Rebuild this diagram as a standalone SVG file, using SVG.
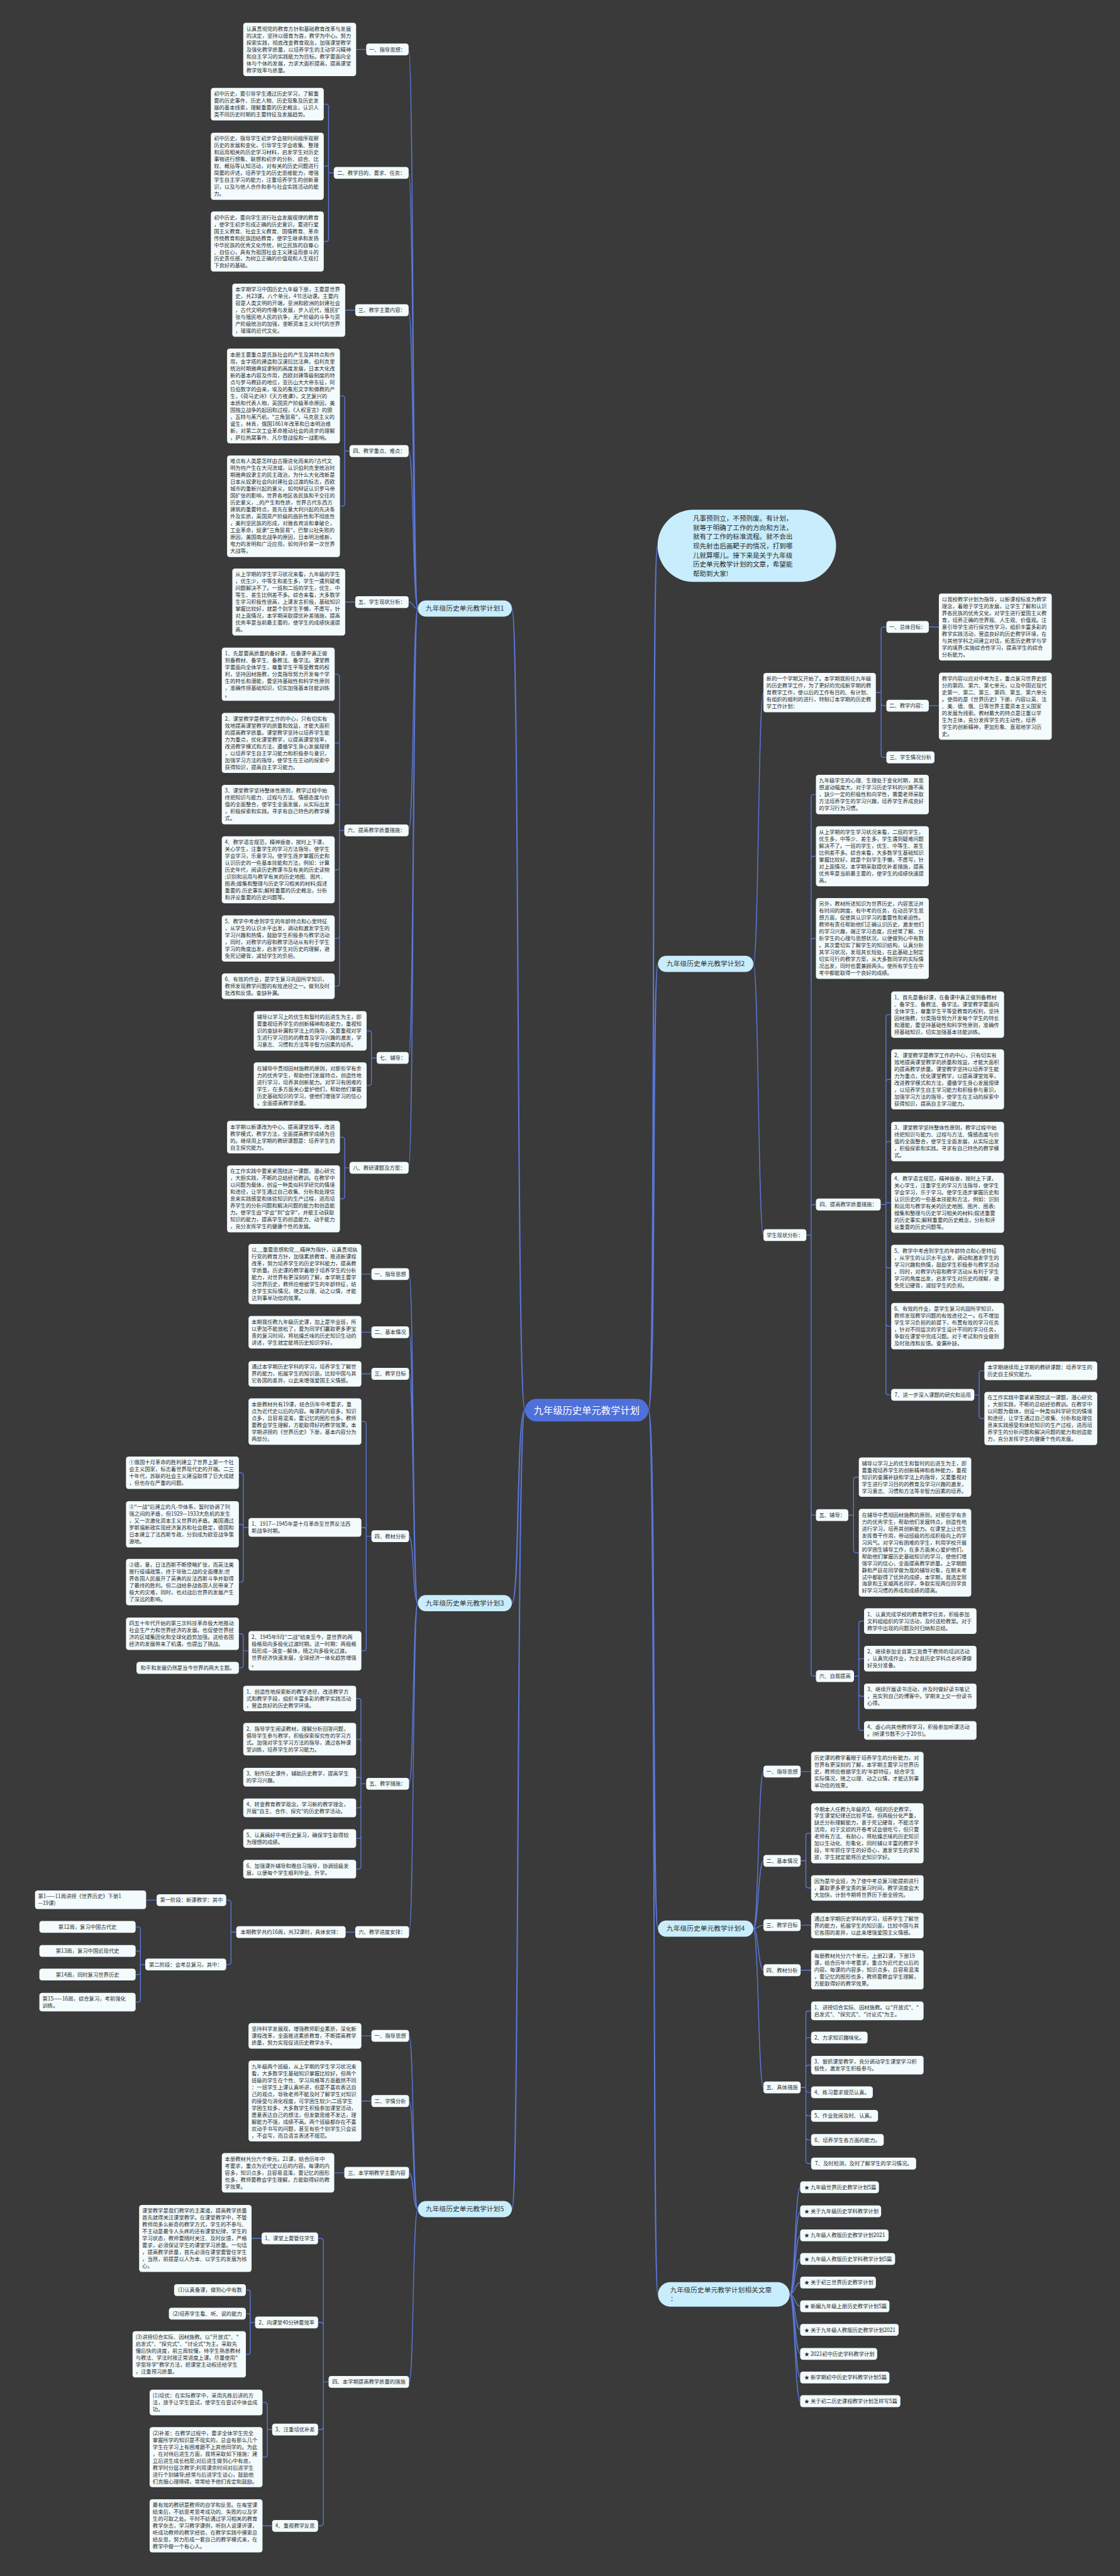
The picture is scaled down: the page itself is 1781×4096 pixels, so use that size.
<svg xmlns="http://www.w3.org/2000/svg" width="1781" height="4096" viewBox="0 0 1781 4096">
<style>
.b{fill:#f3fbfd}
.t{font-family:"Noto Sans CJK SC","Noto Sans",sans-serif;font-size:12px;fill:#2b2b2b}
.lt{font-family:"Noto Sans CJK SC","Noto Sans",sans-serif;font-size:12px;fill:#2b2b2b;text-anchor:middle}
.nd{fill:#c8edfc}
.nt{font-family:"Noto Sans CJK SC","Noto Sans",sans-serif;font-size:15.5px;fill:#333;text-anchor:middle}
.c{fill:none;stroke:#5a77d8;stroke-width:2}
.m{fill:none;stroke:#5a77d8;stroke-width:3}
</style>
<rect width="1781" height="4096" fill="#3a3a3a"/>
<g transform="scale(0.6957)">
<g id="connectors">
<path class="m" d="M1200 3223 C1180 3223 1188 1391 1170 1391 M1200 3223 C1180 3223 1188 3664 1170 3664 M1200 3223 C1180 3223 1188 5049 1170 5049 M1482 3223 C1500 3223 1488 1248 1503 1248 M1482 3223 C1500 3223 1490 2203 1504 2203 M1482 3223 C1500 3223 1490 4408 1504 4408 M1482 3223 C1500 3223 1490 5244 1504 5244"/>
<path class="c" d="M955 1391 C943 1391 946 113 934 113 M955 1391 C943 1391 946 395 934 395 M955 1391 C943 1391 946 709 934 709 M955 1391 C943 1391 946 1031 934 1031 M955 1391 C943 1391 946 1376 934 1376 M955 1391 C943 1391 946 1898 934 1898 M955 1391 C943 1391 946 2418 934 2418 M955 1391 C943 1391 946 2669 934 2669"/>
<path class="c" d="M837 113 H814 M763 395 H751 V244 Q751 238 745 238 H740 M751 395 V374 Q751 380 745 380 H740 M751 395 V546 Q751 552 745 552 H740 M812 709 H789 M799 1031 H788 V911 Q788 905 782 905 H777 M788 1031 V1151 Q788 1157 782 1157 H777 M812 1376 H789 M787 1898 H776 V1547 Q776 1541 770 1541 H765 M776 1898 V1704 Q776 1698 770 1698 H765 M776 1898 V1845 Q776 1839 770 1839 H765 M776 1898 V1982 Q776 1988 770 1988 H765 M776 1898 V2139 Q776 2145 770 2145 H765 M776 1898 V2248 Q776 2254 770 2254 H765 M861 2418 H849 V2362 Q849 2356 843 2356 H838 M849 2418 V2475 Q849 2481 843 2481 H838 M799 2669 H788 V2605 Q788 2599 782 2599 H777 M788 2669 V2734 Q788 2740 782 2740 H777"/>
<path class="c" d="M955 3664 C943 3664 946 2912 935 2912 M955 3664 C943 3664 946 3045 935 3045 M955 3664 C943 3664 946 3140 935 3140 M955 3664 C943 3664 946 3511 935 3511 M955 3664 C943 3664 946 4077 935 4077 M955 3664 C943 3664 946 4416 935 4416"/>
<path class="c" d="M849 2912 H826 M849 3045 H826 M849 3140 H826 M849 3511 H837 V3255 Q837 3249 831 3249 H826 M837 3511 V3497 Q837 3491 831 3491 H826 M837 3511 V3767 Q837 3773 831 3773 H826 M568 3491 H556 V3372 Q556 3366 550 3366 H546 M556 3491 V3490 Q556 3484 550 3484 H546 M556 3491 V3610 Q556 3616 550 3616 H546 M568 3773 H556 V3740 Q556 3734 550 3734 H546 M556 3773 V3806 Q556 3812 550 3812 H546 M837 4077 H825 V3888 Q825 3882 819 3882 H814 M825 4077 V3981 Q825 3975 819 3975 H814 M825 4077 V4068 Q825 4062 819 4062 H814 M825 4077 V4126 Q825 4132 819 4132 H814 M825 4077 V4196 Q825 4202 819 4202 H814 M825 4077 V4266 Q825 4272 819 4272 H814 M812 4416 H790 M540 4416 H528 V4349 Q528 4343 522 4343 H517 M528 4416 V4484 Q528 4490 522 4490 H517 M358 4343 H334 M332 4490 H321 V4410 Q321 4404 315 4404 H310 M321 4490 V4465 Q321 4459 315 4459 H310 M321 4490 V4507 Q321 4513 315 4513 H310 M321 4490 V4570 Q321 4576 315 4576 H310"/>
<path class="c" d="M955 5049 C943 5049 946 4653 935 4653 M955 5049 C943 5049 946 4802 935 4802 M955 5049 C943 5049 946 4966 935 4966 M955 5049 C943 5049 946 5444 935 5444"/>
<path class="c" d="M849 4653 H826 M849 4802 H826 M787 4966 H764 M751 5444 H739 V5122 Q739 5116 733 5116 H727 M739 5444 V5314 Q739 5308 733 5308 H727 M739 5444 V5547 Q739 5553 733 5553 H727 M739 5444 V5767 Q739 5773 733 5773 H727 M598 5116 H575 M583 5308 H572 V5240 Q572 5234 567 5234 H562 M572 5308 V5294 Q572 5288 567 5288 H562 M572 5308 V5375 Q572 5381 567 5381 H562 M622 5553 H611 V5497 Q611 5491 605 5491 H600 M611 5553 V5610 Q611 5616 605 5616 H600 M622 5773 H600"/>
<path class="c" d="M1722 2203 C1734 2203 1733 1583 1745 1583 M1722 2203 C1734 2203 1733 2823 1745 2823"/>
<path class="c" d="M2002 1583 H2014 V1439 Q2014 1433 2020 1433 H2026 M2014 1583 V1607 Q2014 1613 2020 1613 H2026 M2014 1583 V1725 Q2014 1731 2020 1731 H2026 M2123 1433 H2146 M2123 1613 H2146 M1843 2823 H1854 V1822 Q1854 1816 1860 1816 H1865 M1854 2823 V1963 Q1854 1957 1860 1957 H1865 M1854 2823 V2151 Q1854 2145 1860 2145 H1865 M1854 2823 V2759 Q1854 2753 1860 2753 H1865 M1854 2823 V3457 Q1854 3463 1860 3463 H1865 M1854 2823 V3825 Q1854 3831 1860 3831 H1865 M2013 2753 H2025 V2325 Q2025 2319 2031 2319 H2037 M2025 2753 V2473 Q2025 2467 2031 2467 H2037 M2025 2753 V2615 Q2025 2609 2031 2609 H2037 M2025 2753 V2749 H2037 M2025 2753 V2892 Q2025 2898 2031 2898 H2037 M2025 2753 V3025 Q2025 3031 2031 3031 H2037 M2025 2753 V3182 Q2025 3188 2031 3188 H2037 M2227 3188 H2238 V3139 Q2238 3133 2244 3133 H2250 M2238 3188 V3236 Q2238 3242 2244 3242 H2250 M1939 3463 H1951 V3382 Q1951 3376 1957 3376 H1963 M1951 3463 V3543 Q1951 3549 1957 3549 H1963 M1952 3831 H1963 V3711 Q1963 3705 1969 3705 H1975 M1963 3831 V3797 Q1963 3791 1969 3791 H1975 M1963 3831 V3871 Q1963 3877 1969 3877 H1975 M1963 3831 V3949 Q1963 3955 1969 3955 H1975"/>
<path class="c" d="M1722 4408 C1734 4408 1733 4049 1745 4049 M1722 4408 C1734 4408 1733 4253 1745 4253 M1722 4408 C1734 4408 1733 4400 1745 4400 M1722 4408 C1734 4408 1733 4503 1745 4503 M1722 4408 C1734 4408 1733 4771 1745 4771"/>
<path class="c" d="M1830 4049 H1854 M1830 4253 H1842 V4196 Q1842 4190 1848 4190 H1854 M1842 4253 V4309 Q1842 4315 1848 4315 H1854 M1830 4400 H1854 M1830 4503 H1854 M1830 4771 H1842 V4602 Q1842 4596 1848 4596 H1854 M1842 4771 V4663 Q1842 4657 1848 4657 H1854 M1842 4771 V4726 Q1842 4720 1848 4720 H1854 M1842 4771 V4776 Q1842 4782 1848 4782 H1854 M1842 4771 V4830 Q1842 4836 1848 4836 H1854 M1842 4771 V4885 Q1842 4891 1848 4891 H1854 M1842 4771 V4939 Q1842 4945 1848 4945 H1854"/>
<path class="c" d="M1805 5244 C1817 5244 1817 4999 1829 4999 M1805 5244 C1817 5244 1817 5054 1829 5054 M1805 5244 C1817 5244 1817 5109 1829 5109 M1805 5244 C1817 5244 1817 5163 1829 5163 M1805 5244 C1817 5244 1817 5217 1829 5217 M1805 5244 C1817 5244 1817 5271 1829 5271 M1805 5244 C1817 5244 1817 5325 1829 5325 M1805 5244 C1817 5244 1817 5380 1829 5380 M1805 5244 C1817 5244 1817 5434 1829 5434 M1805 5244 C1817 5244 1817 5488 1829 5488"/>
</g>

<g id="center"><rect x="1200" y="3197" width="282" height="52" rx="26" fill="#4e70da"/><text x="1341" y="3231" font-family="Noto Sans CJK SC, sans-serif" font-size="22" fill="#fff" text-anchor="middle">九年级历史单元教学计划</text></g>

<g id="intro"><rect class="nd" x="1503" y="1165" width="408" height="165" rx="82"/><text class="t" style="font-size:15.2px" x="1584" y="1190.4"><tspan x="1584">凡事预则立，不预则废。有计划，</tspan><tspan x="1584" dy="21">就等于明确了工作的方向和方法，</tspan><tspan x="1584" dy="21">就有了工作的标准流程。就不会出</tspan><tspan x="1584" dy="21">现先射击后画靶子的情况，打到哪</tspan><tspan x="1584" dy="21">儿就算哪儿。接下来是关于九年级</tspan><tspan x="1584" dy="21">历史单元教学计划的文章，希望能</tspan><tspan x="1584" dy="21">帮助到大家!</tspan></text></g>

<g id="node1"><rect class="nd" x="955" y="1372.5" width="215" height="37" rx="18.5"/><text class="nt" x="1062.5" y="1396.4">九年级历史单元教学计划1</text></g>
<g id="node2"><rect class="nd" x="1504" y="2184.5" width="218" height="37" rx="18.5"/><text class="nt" x="1613" y="2208.4">九年级历史单元教学计划2</text></g>
<g id="node3"><rect class="nd" x="955" y="3645.5" width="215" height="37" rx="18.5"/><text class="nt" x="1062.5" y="3669.4">九年级历史单元教学计划3</text></g>
<g id="node4"><rect class="nd" x="1504" y="4389.5" width="218" height="37" rx="18.5"/><text class="nt" x="1613" y="4413.4">九年级历史单元教学计划4</text></g>
<g id="node5"><rect class="nd" x="955" y="5030.5" width="215" height="37" rx="18.5"/><text class="nt" x="1062.5" y="5054.4">九年级历史单元教学计划5</text></g>
<g id="node6"><rect class="nd" x="1504" y="5216" width="301" height="56" rx="28"/><text class="nt" style="text-anchor:start" x="1532" y="5239"><tspan x="1532">九年级历史单元教学计划相关文章</tspan><tspan x="1532" dy="21">：</tspan></text></g>

<!-- branch 1 -->
<g id="l1-1"><rect class="b" x="837" y="99.5" width="97" height="27" rx="6"/><text class="lt" x="885.5" y="117.3">一、指导思想：</text></g>
<g id="a1"><rect class="b" x="556" y="52.2" width="258" height="121.6" rx="6"/><text class="t" x="563" y="69.9"><tspan x="563">认真贯彻党的教育方针和基础教育改革与发展</tspan><tspan x="563" dy="15.8">的决定，坚持以德育为首，教学为中心。努力</tspan><tspan x="563" dy="15.8">探索实践，彻底改变教育观念，加强课堂教学</tspan><tspan x="563" dy="15.8">及强化教学质量，以培养学生的主动学习精神</tspan><tspan x="563" dy="15.8">和自主学习的实践能力为目标。教学要面向全</tspan><tspan x="563" dy="15.8">体与个体的发展，力求大面积提高，提高课堂</tspan><tspan x="563" dy="15.8">教学效率与质量。</tspan></text></g>
<g id="l1-2"><rect class="b" x="763" y="381.5" width="171" height="27" rx="6"/><text class="lt" x="848.5" y="399.3">二、教学目的、要求、任务：</text></g>
<g id="a2a"><rect class="b" x="482" y="200.9" width="258" height="74.2" rx="6"/><text class="t" x="489" y="218.6"><tspan x="489">初中历史，要引导学生通过历史学习，了解重</tspan><tspan x="489" dy="15.8">要的历史事件、历史人物、历史现象及历史发</tspan><tspan x="489" dy="15.8">展的基本线索，理解重要的历史概念，认识人</tspan><tspan x="489" dy="15.8">类不同历史时期的主要特征及发展趋势。</tspan></text></g>
<g id="a2b"><rect class="b" x="482" y="303.4" width="258" height="153.2" rx="6"/><text class="t" x="489" y="321.1"><tspan x="489">初中历史，指导学生初步学会按时间顺序观察</tspan><tspan x="489" dy="15.8">历史的发展和变化，引导学生学会收集、整理</tspan><tspan x="489" dy="15.8">和运用相关的历史学习材料，启发学生对历史</tspan><tspan x="489" dy="15.8">事物进行想象、联想和初步的分析、综合、比</tspan><tspan x="489" dy="15.8">较、概括等认知活动，对有关的历史问题进行</tspan><tspan x="489" dy="15.8">简要的评述，培养学生的历史思维能力，增强</tspan><tspan x="489" dy="15.8">学生自主学习的能力，注重培养学生的创新意</tspan><tspan x="489" dy="15.8">识，以及与他人合作和参与社会实践活动的能</tspan><tspan x="489" dy="15.8">力。</tspan></text></g>
<g id="a2c"><rect class="b" x="482" y="483.3" width="258" height="137.4" rx="6"/><text class="t" x="489" y="501"><tspan x="489">初中历史，要向学生进行社会发展规律的教育</tspan><tspan x="489" dy="15.8">，使学生初步形成正确的历史意识，要进行爱</tspan><tspan x="489" dy="15.8">国主义教育、社会主义教育、国情教育、革命</tspan><tspan x="489" dy="15.8">传统教育和民族团结教育，使学生继承和发扬</tspan><tspan x="489" dy="15.8">中华民族的优秀文化传统，树立民族的自尊心</tspan><tspan x="489" dy="15.8">、自信心，具有为祖国社会主义建设而奋斗的</tspan><tspan x="489" dy="15.8">历史责任感，为树立正确的价值观和人生观打</tspan><tspan x="489" dy="15.8">下良好的基础。</tspan></text></g>
<g id="l1-3"><rect class="b" x="812" y="695.5" width="122" height="27" rx="6"/><text class="lt" x="873" y="713.3">三、教学主要内容：</text></g>
<g id="a3"><rect class="b" x="531" y="648.2" width="258" height="121.6" rx="6"/><text class="t" x="538" y="665.9"><tspan x="538">本学期学习中国历史九年级下册，主要是世界</tspan><tspan x="538" dy="15.8">史，共23课。八个单元，4节活动课。主要内</tspan><tspan x="538" dy="15.8">容是人类文明的开端，亚洲和欧洲的封建社会</tspan><tspan x="538" dy="15.8">，古代文明的传播与发展，步入近代，殖民扩</tspan><tspan x="538" dy="15.8">张与殖民地人民的抗争，无产阶级的斗争与资</tspan><tspan x="538" dy="15.8">产阶级统治的加强，垄断资本主义时代的世界</tspan><tspan x="538" dy="15.8">，璀璨的近代文化。</tspan></text></g>
<g id="l1-4"><rect class="b" x="799" y="1017.5" width="135" height="27" rx="6"/><text class="lt" x="866.5" y="1035.3">四、教学重点、难点：</text></g>
<g id="a4a"><rect class="b" x="519" y="796.8" width="258" height="216.4" rx="6"/><text class="t" x="526" y="814.5"><tspan x="526">本册主要重点是氏族社会的产生及其特点和作</tspan><tspan x="526" dy="15.8">用，金字塔的建造和汉谟拉比法典，伯利克里</tspan><tspan x="526" dy="15.8">统治时期雅典奴隶制的高度发展，日本大化改</tspan><tspan x="526" dy="15.8">新的基本内容及作用，西欧封建等级制度的特</tspan><tspan x="526" dy="15.8">点与罗马教廷的地位，亚历山大大帝东征，阿</tspan><tspan x="526" dy="15.8">拉伯数字的由来，埃及的象形文字和佛教的产</tspan><tspan x="526" dy="15.8">生，《荷马史诗》《天方夜谭》，文艺复兴的</tspan><tspan x="526" dy="15.8">本质和代表人物，英国资产阶级革命原因，美</tspan><tspan x="526" dy="15.8">国独立战争的起因和过程，《人权宣言》的颁</tspan><tspan x="526" dy="15.8">，瓦特与蒸汽机，"三角贸易"，马克思主义的</tspan><tspan x="526" dy="15.8">诞生，林肯，俄国1861年改革和日本明治维</tspan><tspan x="526" dy="15.8">新，对第二次工业革命推动社会的进步的理解</tspan><tspan x="526" dy="15.8">，萨拉热窝事件、凡尔登战役和一战影响。</tspan></text></g>
<g id="a4b"><rect class="b" x="519" y="1040.9" width="258" height="232.2" rx="6"/><text class="t" x="526" y="1058.6"><tspan x="526">难点有人类是怎样由古猿进化而来的?古代文</tspan><tspan x="526" dy="15.8">明为何产生在大河流域，认识伯利克里统治时</tspan><tspan x="526" dy="15.8">期雅典奴隶主的民主政治，为什么大化改新是</tspan><tspan x="526" dy="15.8">日本从奴隶社会向封建社会过渡的标志，西欧</tspan><tspan x="526" dy="15.8">城市的重新兴起的意义，如何辩证认识罗马帝</tspan><tspan x="526" dy="15.8">国扩张的影响，世界各地区各民族和平交往的</tspan><tspan x="526" dy="15.8">历史意义，_的产生和性质，世界古代东西方</tspan><tspan x="526" dy="15.8">建筑的重要特点，首先在意大利兴起的先决条</tspan><tspan x="526" dy="15.8">件及实质，英国资产阶级的曲折性和不彻底性</tspan><tspan x="526" dy="15.8">，美利坚民族的形成，对雅各宾派和拿破仑，</tspan><tspan x="526" dy="15.8">工业革命，奴隶"三角贸易"，巴黎公社失败的</tspan><tspan x="526" dy="15.8">原因，美国南北战争的原因，日本明治维新，</tspan><tspan x="526" dy="15.8">电力的发明和广泛应用，如何评价第一次世界</tspan><tspan x="526" dy="15.8">大战等。</tspan></text></g>
<g id="l1-5"><rect class="b" x="812" y="1362.5" width="122" height="27" rx="6"/><text class="lt" x="873" y="1380.3">五、学生现状分析：</text></g>
<g id="a5"><rect class="b" x="531" y="1299.4" width="258" height="153.2" rx="6"/><text class="t" x="538" y="1317.1"><tspan x="538">从上学期的学生学习状况来看，九年级的学生</tspan><tspan x="538" dy="15.8">，优生少，中等生和差生多，学生一遇到疑难</tspan><tspan x="538" dy="15.8">问题解决不了。一班和二班的学生，优生、中</tspan><tspan x="538" dy="15.8">等生、差生比例差不多。综合来看，大多数学</tspan><tspan x="538" dy="15.8">生学习积极性很高，上课发言积极，基础知识</tspan><tspan x="538" dy="15.8">掌握比较好，就是个别学生手懒，不愿写，针</tspan><tspan x="538" dy="15.8">对上面情况，本学期采取提优补差措施，提高</tspan><tspan x="538" dy="15.8">优秀率是当前最主要的，使学生的成绩快速提</tspan><tspan x="538" dy="15.8">高。</tspan></text></g>
<g id="l1-6"><rect class="b" x="787" y="1884.5" width="147" height="27" rx="6"/><text class="lt" x="860.5" y="1902.3">六、提高教学质量措施：</text></g>
<g id="b1"><rect class="b" x="507" y="1480.2" width="258" height="121.6" rx="6"/><text class="t" x="514" y="1497.9"><tspan x="514">1、先是要高质量的备好课，在备课中真正做</tspan><tspan x="514" dy="15.8">到备教材、备学生、备教法、备学法。课堂教</tspan><tspan x="514" dy="15.8">学要面向全体学生，尊重学生平等受教育的权</tspan><tspan x="514" dy="15.8">利，坚持因材施教，分类指导努力开发每个学</tspan><tspan x="514" dy="15.8">生的特长和潜能，要坚持基础性和科学性原则</tspan><tspan x="514" dy="15.8">，准确传授基础知识，切实加强基本技能训练</tspan><tspan x="514" dy="15.8">。</tspan></text></g>
<g id="b2"><rect class="b" x="507" y="1629.3" width="258" height="137.4" rx="6"/><text class="t" x="514" y="1647"><tspan x="514">2、课堂教学是教学工作的中心，只有切实有</tspan><tspan x="514" dy="15.8">效地提高课堂教学的质量和效益，才能大面积</tspan><tspan x="514" dy="15.8">的提高教学质量。课堂教学坚持以培养学生能</tspan><tspan x="514" dy="15.8">力为重点，优化课堂教学，以提高课堂效率，</tspan><tspan x="514" dy="15.8">改进教学模式和方法，遵循学生身心发展规律</tspan><tspan x="514" dy="15.8">，以培养学生自主学习能力和积极参与意识，</tspan><tspan x="514" dy="15.8">加强学习方法的指导，使学生在主动的探索中</tspan><tspan x="514" dy="15.8">获得知识，提高自主学习能力。</tspan></text></g>
<g id="b3"><rect class="b" x="507" y="1794" width="258" height="90" rx="6"/><text class="t" x="514" y="1811.7"><tspan x="514">3、课堂教学坚持整体性原则，教学过程中始</tspan><tspan x="514" dy="15.8">终把知识与能力、过程与方法、情感态度与价</tspan><tspan x="514" dy="15.8">值的全面整合，使学生全面发展，从实际出发</tspan><tspan x="514" dy="15.8">，积极探索和实践。寻求有自己特色的教学模</tspan><tspan x="514" dy="15.8">式。</tspan></text></g>
<g id="b4"><rect class="b" x="507" y="1911.4" width="258" height="153.2" rx="6"/><text class="t" x="514" y="1929.1"><tspan x="514">4、教学语言规范，精神振奋，按时上下课，</tspan><tspan x="514" dy="15.8">关心学生，注重学生的学习方法指导，使学生</tspan><tspan x="514" dy="15.8">学会学习，乐意学习。使学生逐步掌握历史和</tspan><tspan x="514" dy="15.8">认识历史的一些基本技能和方法，例如：计算</tspan><tspan x="514" dy="15.8">历史年代，阅读历史教课书及有关的历史读物</tspan><tspan x="514" dy="15.8">;识别和运用与教学有关的历史地图、图片、</tspan><tspan x="514" dy="15.8">图表;搜集和整理与历史学习相关的材料;叙述</tspan><tspan x="514" dy="15.8">重要的.历史事实;解释重要的历史概念，分析</tspan><tspan x="514" dy="15.8">和评论重要的历史问题等。</tspan></text></g>
<g id="b5"><rect class="b" x="507" y="2092.1" width="258" height="105.8" rx="6"/><text class="t" x="514" y="2109.8"><tspan x="514">5、教学中考虑到学生的年龄特点和心里特征</tspan><tspan x="514" dy="15.8">，从学生的认识水平出发，调动和激发学生的</tspan><tspan x="514" dy="15.8">学习兴趣和热情，鼓励学生积极参与教学活动</tspan><tspan x="514" dy="15.8">，同时，对教学内容和教学活动从有利于学生</tspan><tspan x="514" dy="15.8">学习的角度出发，启发学生对历史的理解，避</tspan><tspan x="514" dy="15.8">免死记硬背，减轻学生的负担。</tspan></text></g>
<g id="b6"><rect class="b" x="507" y="2224.8" width="258" height="58.4" rx="6"/><text class="t" x="514" y="2242.5"><tspan x="514">6、有效的作业，是学生复习巩固所学知识，</tspan><tspan x="514" dy="15.8">教师发现教学问题的有效途径之一。做到及时</tspan><tspan x="514" dy="15.8">批改和反馈。查缺补漏。</tspan></text></g>
<g id="l1-7"><rect class="b" x="861" y="2404.5" width="73" height="27" rx="6"/><text class="lt" x="897.5" y="2422.3">七、辅导：</text></g>
<g id="c1a"><rect class="b" x="580" y="2311" width="258" height="90" rx="6"/><text class="t" x="587" y="2328.7"><tspan x="587">辅导以学习上的优生和暂时的后进生为主，即</tspan><tspan x="587" dy="15.8">要重视培养学生的创新精神和各能力，重视知</tspan><tspan x="587" dy="15.8">识的查缺补漏和学法上的指导，又要重视对学</tspan><tspan x="587" dy="15.8">生进行学习目的的教育及学习兴趣的激发，学</tspan><tspan x="587" dy="15.8">习意志、习惯和方法等非智力因素的培养。</tspan></text></g>
<g id="c1b"><rect class="b" x="580" y="2428.1" width="258" height="105.8" rx="6"/><text class="t" x="587" y="2445.8"><tspan x="587">在辅导中贯彻因材施教的原则，对那些学有余</tspan><tspan x="587" dy="15.8">力的优秀学生，帮助他们发展特点，创造性地</tspan><tspan x="587" dy="15.8">进行学习，培养其创新能力。对学习有困难的</tspan><tspan x="587" dy="15.8">学生，在多方面关心爱护他们，帮助他们掌握</tspan><tspan x="587" dy="15.8">历史基础知识的学习，使他们增强学习的信心</tspan><tspan x="587" dy="15.8">，全面提高教学质量。</tspan></text></g>
<g id="l1-8"><rect class="b" x="799" y="2655.5" width="135" height="27" rx="6"/><text class="lt" x="866.5" y="2673.3">八、教研课题及方案：</text></g>
<g id="c2a"><rect class="b" x="519" y="2561.9" width="258" height="74.2" rx="6"/><text class="t" x="526" y="2579.6"><tspan x="526">本学期以新课改为中心，提高课堂效率，改进</tspan><tspan x="526" dy="15.8">教学模式，教学方法，全面提高教学成绩为目</tspan><tspan x="526" dy="15.8">的。继续用上学期的教研课题是：培养学生的</tspan><tspan x="526" dy="15.8">自主探究能力。</tspan></text></g>
<g id="c2b"><rect class="b" x="519" y="2663.4" width="258" height="153.2" rx="6"/><text class="t" x="526" y="2681.1"><tspan x="526">在工作实践中要紧紧围绕这一课题，潜心研究</tspan><tspan x="526" dy="15.8">，大胆实践，不断的总结经验教训。在教学中</tspan><tspan x="526" dy="15.8">以问题为载体，创设一种类似科学研究的情境</tspan><tspan x="526" dy="15.8">和途径，让学生通过自己收集、分析和处理信</tspan><tspan x="526" dy="15.8">息来实践感受和体验知识的生产过程，进而培</tspan><tspan x="526" dy="15.8">养学生的分析问题和解决问题的能力和创造能</tspan><tspan x="526" dy="15.8">力。使学生由"学会"到"会学"，并能主动获取</tspan><tspan x="526" dy="15.8">知识的能力，提高学生的创造能力、动手能力</tspan><tspan x="526" dy="15.8">，充分发挥学生的健康个性的发展。</tspan></text></g>

<!-- branch 3 -->
<g id="l3-1"><rect class="b" x="849" y="2898.5" width="86" height="27" rx="6"/><text class="lt" x="892" y="2916.3">一、指导思想</text></g>
<g id="d1"><rect class="b" x="568" y="2843.3" width="258" height="137.4" rx="6"/><text class="t" x="575" y="2861"><tspan x="575">以__重要思想和党__精神为指针，认真贯彻执</tspan><tspan x="575" dy="15.8">行党的教育方针，加强素质教育，推进新课程</tspan><tspan x="575" dy="15.8">改革，努力培养学生的历史学科能力，提高教</tspan><tspan x="575" dy="15.8">学质量。历史课的教学着眼于培养学生的分析</tspan><tspan x="575" dy="15.8">能力，对世界有更深刻的了解，本学期主要学</tspan><tspan x="575" dy="15.8">习世界历史，教师应根据学生的年龄特征，结</tspan><tspan x="575" dy="15.8">合学生实际情况，晓之以理、动之以情，才能</tspan><tspan x="575" dy="15.8">达到事半功倍的效果。</tspan></text></g>
<g id="l3-2"><rect class="b" x="849" y="3031.5" width="86" height="27" rx="6"/><text class="lt" x="892" y="3049.3">二、基本情况</text></g>
<g id="d2"><rect class="b" x="568" y="3007.9" width="258" height="74.2" rx="6"/><text class="t" x="575" y="3025.6"><tspan x="575">本期我任教九年级历史课，加上是毕业班，所</tspan><tspan x="575" dy="15.8">以更加不能放松了，要为同学们赢取更多更宝</tspan><tspan x="575" dy="15.8">贵的复习时间，将枯燥乏味的历史知识生动的</tspan><tspan x="575" dy="15.8">讲述，学生就定能将历史知识学好。</tspan></text></g>
<g id="l3-3"><rect class="b" x="849" y="3126.5" width="86" height="27" rx="6"/><text class="lt" x="892" y="3144.3">三、教学目标</text></g>
<g id="d3"><rect class="b" x="568" y="3110.8" width="258" height="58.4" rx="6"/><text class="t" x="575" y="3128.5"><tspan x="575">通过本学期历史学科的学习，培养学生了解世</tspan><tspan x="575" dy="15.8">界的能力，拓展学生的知识面，比较中国与其</tspan><tspan x="575" dy="15.8">它各国的差异，以此来增强爱国主义情感。</tspan></text></g>
<g id="l3-4"><rect class="b" x="849" y="3497.5" width="86" height="27" rx="6"/><text class="lt" x="892" y="3515.3">四、教材分析</text></g>
<g id="d4"><rect class="b" x="568" y="3196.1" width="258" height="105.8" rx="6"/><text class="t" x="575" y="3213.8"><tspan x="575">本册教材共有19课，结合历年中考要求，重</tspan><tspan x="575" dy="15.8">点为近代史以后的内容。每课的内容多，知识</tspan><tspan x="575" dy="15.8">点多，且容易混淆，要记忆的图形也多，教师</tspan><tspan x="575" dy="15.8">要教会学生理解，方能取得好的教学效果。本</tspan><tspan x="575" dy="15.8">学期讲授的《世界历史》下册，基本内容分为</tspan><tspan x="575" dy="15.8">两部分。</tspan></text></g>
<g id="d4-1"><rect class="b" x="568" y="3469.7" width="258" height="42.6" rx="6"/><text class="t" x="575" y="3487.4"><tspan x="575">1、1917—1945年是十月革命至世界反法西</tspan><tspan x="575" dy="15.8">斯战争时期。</tspan></text></g>
<g id="d5a"><rect class="b" x="288" y="3328.9" width="258" height="74.2" rx="6"/><text class="t" x="295" y="3346.6"><tspan x="295">①俄国十月革命的胜利建立了世界上第一个社</tspan><tspan x="295" dy="15.8">会主义国家，标志着世界现代史的开端。二三</tspan><tspan x="295" dy="15.8">十年代，苏联的社会主义建设取得了巨大成就</tspan><tspan x="295" dy="15.8">，但也存在严重的问题。</tspan></text></g>
<g id="d5b"><rect class="b" x="288" y="3431.1" width="258" height="105.8" rx="6"/><text class="t" x="295" y="3448.8"><tspan x="295">②"一战"后建立的凡-华体系，暂时协调了列</tspan><tspan x="295" dy="15.8">强之间的矛盾，但1929—1933大危机的发生</tspan><tspan x="295" dy="15.8">，又一次激化资本主义世界的矛盾。美国通过</tspan><tspan x="295" dy="15.8">罗斯福新政实现经济复苏和社会稳定，德国和</tspan><tspan x="295" dy="15.8">日本建立了法西斯专政，分别成为欧亚战争策</tspan><tspan x="295" dy="15.8">源地。</tspan></text></g>
<g id="d5c"><rect class="b" x="288" y="3563.1" width="258" height="105.8" rx="6"/><text class="t" x="295" y="3580.8"><tspan x="295">③德，意，日法西斯不断侵略扩张，而英法美</tspan><tspan x="295" dy="15.8">推行绥靖政策，终于导致二战的全面爆发;世</tspan><tspan x="295" dy="15.8">界各国人民展开了英勇的反法西斯斗争并取得</tspan><tspan x="295" dy="15.8">了最终的胜利。但二战给参战各国人民带来了</tspan><tspan x="295" dy="15.8">极大的灾难，同时，也对战后世界的发展产生</tspan><tspan x="295" dy="15.8">了深远的影响。</tspan></text></g>
<g id="d4-2"><rect class="b" x="568" y="3728" width="258" height="90" rx="6"/><text class="t" x="575" y="3745.7"><tspan x="575">2、1945年9月"二战"结束至今，是世界的两</tspan><tspan x="575" dy="15.8">极格局向多极化过渡时期。这一时期：两极格</tspan><tspan x="575" dy="15.8">局形成—演变—解体，随之向多极化过渡。</tspan><tspan x="575" dy="15.8">世界经济快速发展，全球经济一体化趋势增强</tspan><tspan x="575" dy="15.8">。</tspan></text></g>
<g id="d6a"><rect class="b" x="288" y="3696.9" width="258" height="74.2" rx="6"/><text class="t" x="295" y="3714.6"><tspan x="295">四五十年代开始的第三次科技革命极大地推动</tspan><tspan x="295" dy="15.8">社会生产力和世界经济的发展。也促使世界经</tspan><tspan x="295" dy="15.8">济的区域集团化和全球化趋势加强。这给各国</tspan><tspan x="295" dy="15.8">经济的发展带来了机遇，也提出了挑战。</tspan></text></g>
<g id="d6b"><rect class="b" x="312" y="3798.5" width="234" height="27" rx="6"/><text class="lt" x="429" y="3816.3">和平和发展仍然是当今世界的两大主题。</text></g>
<g id="l3-5"><rect class="b" x="837" y="4063.5" width="98" height="27" rx="6"/><text class="lt" x="886" y="4081.3">五、教学措施：</text></g>
<g id="e1"><rect class="b" x="556" y="3852.8" width="258" height="58.4" rx="6"/><text class="t" x="563" y="3870.5"><tspan x="563">1、创造性地探索新的教学途径，改进教学方</tspan><tspan x="563" dy="15.8">式和教学手段，组织丰富多彩的教学实践活动</tspan><tspan x="563" dy="15.8">，营造良好的历史教学环境。</tspan></text></g>
<g id="e2"><rect class="b" x="556" y="3937.9" width="258" height="74.2" rx="6"/><text class="t" x="563" y="3955.6"><tspan x="563">2、指导学生阅读教材，理解分析回答问题，</tspan><tspan x="563" dy="15.8">倡导学生参与教学，积极探索探究性的学习方</tspan><tspan x="563" dy="15.8">式。加强对学生学习方法的指导，通过各种课</tspan><tspan x="563" dy="15.8">堂训练，培养学生的学习能力。</tspan></text></g>
<g id="e3"><rect class="b" x="556" y="4040.7" width="258" height="42.6" rx="6"/><text class="t" x="563" y="4058.4"><tspan x="563">3、制作历史课件，辅助历史教学，提高学生</tspan><tspan x="563" dy="15.8">的学习兴趣。</tspan></text></g>
<g id="e4"><rect class="b" x="556" y="4110.7" width="258" height="42.6" rx="6"/><text class="t" x="563" y="4128.4"><tspan x="563">4、转变教育教学观念，学习新的教学理念，</tspan><tspan x="563" dy="15.8">开展"自主、合作、探究"的历史教学活动。</tspan></text></g>
<g id="e5"><rect class="b" x="556" y="4180.7" width="258" height="42.6" rx="6"/><text class="t" x="563" y="4198.4"><tspan x="563">5、认真搞好中考历史复习，确保学生取得较</tspan><tspan x="563" dy="15.8">为理想的成绩。</tspan></text></g>
<g id="e6"><rect class="b" x="556" y="4250.7" width="258" height="42.6" rx="6"/><text class="t" x="563" y="4268.4"><tspan x="563">6、加强课外辅导和晚自习指导，协调班级发</tspan><tspan x="563" dy="15.8">展，以便每个学生顺利毕业、升学。</tspan></text></g>
<g id="l3-6"><rect class="b" x="812" y="4402.5" width="123" height="27" rx="6"/><text class="lt" x="873.5" y="4420.3">六、教学进度安排：</text></g>
<g id="f1"><rect class="b" x="540" y="4402.5" width="250" height="27" rx="6"/><text class="lt" x="665" y="4420.3">本期教学共约16周，共32课时，具体安排：</text></g>
<g id="f2"><rect class="b" x="358" y="4329.5" width="159" height="27" rx="6"/><text class="lt" x="437.5" y="4347.3">第一阶段：新课教学：其中</text></g>
<g id="f3"><rect class="b" x="332" y="4476.5" width="185" height="27" rx="6"/><text class="lt" x="424.5" y="4494.3">第二阶段：会考总复习，其中：</text></g>
<g id="f2a"><rect class="b" x="80" y="4320.7" width="254" height="42.6" rx="6"/><text class="t" x="87" y="4338.4"><tspan x="87">第1——11周讲授《世界历史》下册1</tspan><tspan x="87" dy="15.8">—19课)</tspan></text></g>
<g id="f3a"><rect class="b" x="90" y="4390.5" width="220" height="27" rx="6"/><text class="lt" x="200" y="4408.3">第12周，复习中国古代史</text></g>
<g id="f3b"><rect class="b" x="90" y="4445.5" width="220" height="27" rx="6"/><text class="lt" x="200" y="4463.3">第13周，复习中国近现代史</text></g>
<g id="f3c"><rect class="b" x="90" y="4499.5" width="220" height="27" rx="6"/><text class="lt" x="200" y="4517.3">第14周，同时复习世界历史</text></g>
<g id="f3d"><rect class="b" x="90" y="4554.7" width="220" height="42.6" rx="6"/><text class="t" x="97" y="4572.4"><tspan x="97">第15——16周，综合复习，考前强化</tspan><tspan x="97" dy="15.8">训练。</tspan></text></g>

<!-- branch 5 -->
<g id="l5-1"><rect class="b" x="849" y="4639.5" width="86" height="27" rx="6"/><text class="lt" x="892" y="4657.3">一、指导思想</text></g>
<g id="g1"><rect class="b" x="568" y="4623.8" width="258" height="58.4" rx="6"/><text class="t" x="575" y="4641.5"><tspan x="575">坚持科学发展观，增强教师职业素质，深化新</tspan><tspan x="575" dy="15.8">课程改革，全面推进素质教育，不断提高教学</tspan><tspan x="575" dy="15.8">质量，努力实现促进历史教学水平。</tspan></text></g>
<g id="l5-2"><rect class="b" x="849" y="4788.5" width="86" height="27" rx="6"/><text class="lt" x="892" y="4806.3">二、学情分析</text></g>
<g id="g2"><rect class="b" x="568" y="4709.6" width="258" height="184.8" rx="6"/><text class="t" x="575" y="4727.3"><tspan x="575">九年级两个班级，从上学期的学生学习状况来</tspan><tspan x="575" dy="15.8">看，大多数学生基础知识掌握比较好，但两个</tspan><tspan x="575" dy="15.8">班级的学生在个性、学习风格等方面截然不同</tspan><tspan x="575" dy="15.8">：一班学生上课认真听讲，但是不喜欢表达自</tspan><tspan x="575" dy="15.8">己的观点，导致老师不能及时了解学生对知识</tspan><tspan x="575" dy="15.8">的接受与消化程度，可学困生较少;二班学生</tspan><tspan x="575" dy="15.8">学困生较多，大多数学生积极参加课堂活动，</tspan><tspan x="575" dy="15.8">愿意表达自己的想法，但发散思维不发达，理</tspan><tspan x="575" dy="15.8">解能力不强，成绩不高。两个班级都存在不喜</tspan><tspan x="575" dy="15.8">欢动手书写的问题，甚至有些个别学生只会说</tspan><tspan x="575" dy="15.8">，不会写，而且语言表述不规范。</tspan></text></g>
<g id="l5-3"><rect class="b" x="787" y="4952.5" width="148" height="27" rx="6"/><text class="lt" x="861" y="4970.3">三、本学期教学主要内容</text></g>
<g id="g3"><rect class="b" x="507" y="4921" width="257" height="90" rx="6"/><text class="t" x="514" y="4938.7"><tspan x="514">本册教材共分六个单元，21课，结合历年中</tspan><tspan x="514" dy="15.8">考要求，重点为近代史以后的内容。每课的内</tspan><tspan x="514" dy="15.8">容多，知识点多，且容易混淆，要记忆的图形</tspan><tspan x="514" dy="15.8">也多，教师要教会学生理解，方能取得好的教</tspan><tspan x="514" dy="15.8">学效果。</tspan></text></g>
<g id="l5-4"><rect class="b" x="751" y="5430.5" width="184" height="27" rx="6"/><text class="lt" x="843" y="5448.3">四、本学期提高教学质量的措施</text></g>
<g id="l5-4-1"><rect class="b" x="598" y="5102.5" width="129" height="27" rx="6"/><text class="lt" x="662.5" y="5120.3">1、课堂上要管住学生</text></g>
<g id="h1a"><rect class="b" x="318" y="5039.4" width="257" height="153.2" rx="6"/><text class="t" x="325" y="5057.1"><tspan x="325">课堂教学是我们教学的主渠道，提高教学质量</tspan><tspan x="325" dy="15.8">首先就得关注课堂教学。在课堂教学中，不管</tspan><tspan x="325" dy="15.8">教师用多么新奇的教学方式，学生的不参与、</tspan><tspan x="325" dy="15.8">不主动是最令人头疼的还有课堂纪律，学生的</tspan><tspan x="325" dy="15.8">学习状态，教师要随时关注、及时反馈，严格</tspan><tspan x="325" dy="15.8">要求，必须保证学生的课堂学习质量。一句话</tspan><tspan x="325" dy="15.8">，提高教学质量，首先必须在课堂要管住学生</tspan><tspan x="325" dy="15.8">，当然，前提是以人为本、以学生的发展为核</tspan><tspan x="325" dy="15.8">心。</tspan></text></g>
<g id="l5-4-2"><rect class="b" x="583" y="5294.5" width="144" height="27" rx="6"/><text class="lt" x="655" y="5312.3">2、向课堂40分钟要效率</text></g>
<g id="h2a"><rect class="b" x="398" y="5220.5" width="164" height="27" rx="6"/><text class="lt" x="480" y="5238.3">(1)认真备课，做到心中有数</text></g>
<g id="h2b"><rect class="b" x="386" y="5274.5" width="176" height="27" rx="6"/><text class="lt" x="474" y="5292.3">(2)培养学生看、听、说的能力</text></g>
<g id="h2c"><rect class="b" x="303" y="5328.1" width="259" height="105.8" rx="6"/><text class="t" x="310" y="5345.8"><tspan x="310">(3)讲授切合实际、因材施教。以"开放式"、"</tspan><tspan x="310" dy="15.8">启发式"、"探究式"、"讨论式"为主。采取先</tspan><tspan x="310" dy="15.8">慢后快的进度，前三周较慢，待学生熟悉教材</tspan><tspan x="310" dy="15.8">与教法、学法时按正常进度上课。尽量使用"</tspan><tspan x="310" dy="15.8">学案导学"教学方法，把课堂主动权还给学生</tspan><tspan x="310" dy="15.8">，注重预习质量。</tspan></text></g>
<g id="l5-4-3"><rect class="b" x="622" y="5539.5" width="105" height="27" rx="6"/><text class="lt" x="674.5" y="5557.3">3、注重培优补差</text></g>
<g id="h3a"><rect class="b" x="342" y="5461.8" width="258" height="58.4" rx="6"/><text class="t" x="349" y="5479.5"><tspan x="349">(1)培优：在实际教学中，采用先练后讲的方</tspan><tspan x="349" dy="15.8">法，放手让学生尝试，使学生在尝试中体会成</tspan><tspan x="349" dy="15.8">功。</tspan></text></g>
<g id="h3b"><rect class="b" x="342" y="5547.3" width="258" height="137.4" rx="6"/><text class="t" x="349" y="5565"><tspan x="349">(2)补差：在教学过程中，要求全体学生完全</tspan><tspan x="349" dy="15.8">掌握所学的知识是不现实的，总会有那么几个</tspan><tspan x="349" dy="15.8">学生在学习上有困难跟不上其他同学的。为此</tspan><tspan x="349" dy="15.8">，在对待后进生方面，我将采取如下措施：建</tspan><tspan x="349" dy="15.8">立后进生成长档案;对后进生做到心中有底，</tspan><tspan x="349" dy="15.8">教学时分层次教学;利用课余时间对后进学生</tspan><tspan x="349" dy="15.8">进行个别辅导;经常与后进学生谈心，鼓励他</tspan><tspan x="349" dy="15.8">们克服心理障碍，常常给予他们肯定和鼓励。</tspan></text></g>
<g id="l5-4-4"><rect class="b" x="622" y="5759.5" width="105" height="27" rx="6"/><text class="lt" x="674.5" y="5777.3">4、重视教学反思</text></g>
<g id="h4a"><rect class="b" x="342" y="5712.2" width="258" height="121.6" rx="6"/><text class="t" x="349" y="5729.9"><tspan x="349">最有效的教研是教师的自学和反思。在每堂课</tspan><tspan x="349" dy="15.8">结束后，不妨思考思考成功的、失败的以及学</tspan><tspan x="349" dy="15.8">生的可取之处。平时不妨通过学习相关的教育</tspan><tspan x="349" dy="15.8">教学杂志，学习教学课例，听别人说课评课，</tspan><tspan x="349" dy="15.8">听成功教师的教学经验，在教学实践中摸索总</tspan><tspan x="349" dy="15.8">结反思，努力形成一套自己的教学模式来，在</tspan><tspan x="349" dy="15.8">教学中做一个有心人。</tspan></text></g>

<!-- branch 2 -->
<g id="r1"><rect class="b" x="1745" y="1538" width="257" height="90" rx="6"/><text class="t" x="1752" y="1555.7"><tspan x="1752">新的一个学期又开始了。本学期我担任九年级</tspan><tspan x="1752" dy="15.8">的历史教学工作，为了更好的完成新学期的教</tspan><tspan x="1752" dy="15.8">育教学工作，使以后的工作有目的、有计划、</tspan><tspan x="1752" dy="15.8">有组织的顺利的进行，特制订本学期的历史教</tspan><tspan x="1752" dy="15.8">学工作计划：</tspan></text></g>
<g id="l2-1"><rect class="b" x="2026" y="1419.5" width="97" height="27" rx="6"/><text class="lt" x="2074.5" y="1437.3">一、总体目标：</text></g>
<g id="l2-2"><rect class="b" x="2026" y="1599.5" width="97" height="27" rx="6"/><text class="lt" x="2074.5" y="1617.3">二、教学内容：</text></g>
<g id="l2-3"><rect class="b" x="2026" y="1717.5" width="110" height="27" rx="6"/><text class="lt" x="2081" y="1735.3">三、学生情况分析</text></g>
<g id="r1a"><rect class="b" x="2146" y="1356.4" width="258" height="153.2" rx="6"/><text class="t" x="2153" y="1374.1"><tspan x="2153">以我校教学计划为指导，以新课程标准为教学</tspan><tspan x="2153" dy="15.8">理念，着眼于学生的发展，让学生了解和认识</tspan><tspan x="2153" dy="15.8">界各民族的优秀文化，对学生进行爱国主义教</tspan><tspan x="2153" dy="15.8">育，培养正确的世界观、人生观、价值观。注</tspan><tspan x="2153" dy="15.8">意引导学生进行探究性学习，组织丰富多彩的</tspan><tspan x="2153" dy="15.8">教学实践活动，营造良好的历史教学环境，在</tspan><tspan x="2153" dy="15.8">与其他学科之间建立对话，拓宽历史教学与学</tspan><tspan x="2153" dy="15.8">学的境界;实施综合性学习，提高学生的综合</tspan><tspan x="2153" dy="15.8">分析能力。</tspan></text></g>
<g id="r1b"><rect class="b" x="2146" y="1537.4" width="258" height="153.2" rx="6"/><text class="t" x="2153" y="1555.1"><tspan x="2153">教学内容以应对中考为主，重点复习世界史部</tspan><tspan x="2153" dy="15.8">分的第四、第六、第七单元，以及中国近现代</tspan><tspan x="2153" dy="15.8">史第一、第二、第三、第四、第五、第六单元</tspan><tspan x="2153" dy="15.8">。使用的是《世界历史》下册，内容以英、法</tspan><tspan x="2153" dy="15.8">、美、德、俄、日等世界主要资本主义国家</tspan><tspan x="2153" dy="15.8">的发展为线索。教材最大的特点是注重以学</tspan><tspan x="2153" dy="15.8">生为主体，充分发挥学生的主动性，培养</tspan><tspan x="2153" dy="15.8">学生的创新精神，更加形象、直观地学习历</tspan><tspan x="2153" dy="15.8">史。</tspan></text></g>
<g id="l2-4"><rect class="b" x="1745" y="2809.5" width="98" height="27" rx="6"/><text class="lt" x="1794" y="2827.3">学生现状分析：</text></g>
<g id="r2a"><rect class="b" x="1865" y="1771" width="258" height="90" rx="6"/><text class="t" x="1872" y="1788.7"><tspan x="1872">九年级学生的心理、生理处于变化时期，其思</tspan><tspan x="1872" dy="15.8">想波动幅度大，对于学习历史学科的兴趣不高</tspan><tspan x="1872" dy="15.8">，缺少一定的积极性和向学性，需要老师采取</tspan><tspan x="1872" dy="15.8">方法培养学生的学习兴趣，培养学生养成良好</tspan><tspan x="1872" dy="15.8">的学习行为习惯。</tspan></text></g>
<g id="r2b"><rect class="b" x="1865" y="1888.3" width="258" height="137.4" rx="6"/><text class="t" x="1872" y="1906"><tspan x="1872">从上学期的学生学习状况来看，二班的学生，</tspan><tspan x="1872" dy="15.8">优生多，中等少、差生多，学生遇到疑难问题</tspan><tspan x="1872" dy="15.8">解决不了。一班的学生，优生、中等生、差生</tspan><tspan x="1872" dy="15.8">比例差不多。综合来看，大多数学生基础知识</tspan><tspan x="1872" dy="15.8">掌握比较好，就是个别学生手懒，不愿写，针</tspan><tspan x="1872" dy="15.8">对上面情况，本学期采取提优补差措施，提高</tspan><tspan x="1872" dy="15.8">优秀率是当前最主要的，使学生的成绩快速提</tspan><tspan x="1872" dy="15.8">高。</tspan></text></g>
<g id="r2c"><rect class="b" x="1865" y="2052.6" width="258" height="184.8" rx="6"/><text class="t" x="1872" y="2070.3"><tspan x="1872">另外，教材所述知识为世界历史，内容宽泛并</tspan><tspan x="1872" dy="15.8">有时间的跨度，有中考的任务，在动员学生思</tspan><tspan x="1872" dy="15.8">想方面，促使其认识学习的重要性和紧迫性。</tspan><tspan x="1872" dy="15.8">教师有责任帮助他们正确认识历史，激发他们</tspan><tspan x="1872" dy="15.8">的学习兴趣，端正学习态度，应经常了解、分</tspan><tspan x="1872" dy="15.8">析学生的心理与思想状况，以便做到心中有数</tspan><tspan x="1872" dy="15.8">。其次要切实了解学生的知识结构，认真分析</tspan><tspan x="1872" dy="15.8">其学习状况，发现其长短处，在此基础上制定</tspan><tspan x="1872" dy="15.8">切实可行的教学方案，从大多数同学的实际情</tspan><tspan x="1872" dy="15.8">况出发，同时也要兼顾两头。使所有学生在中</tspan><tspan x="1872" dy="15.8">考中都能取得一个良好的成绩。</tspan></text></g>
<g id="l2-5"><rect class="b" x="1865" y="2739.5" width="148" height="27" rx="6"/><text class="lt" x="1939" y="2757.3">四、提高教学质量措施：</text></g>
<g id="r4-1"><rect class="b" x="2037" y="2266.1" width="258" height="105.8" rx="6"/><text class="t" x="2044" y="2283.8"><tspan x="2044">1、首先是备好课，在备课中真正做到备教材</tspan><tspan x="2044" dy="15.8">、备学生、备教法、备学法。课堂教学要面向</tspan><tspan x="2044" dy="15.8">全体学生，尊重学生平等受教育的权利，坚持</tspan><tspan x="2044" dy="15.8">因材施教，分类指导努力开发每个学生的特长</tspan><tspan x="2044" dy="15.8">和潜能，要坚持基础性和科学性原则，准确传</tspan><tspan x="2044" dy="15.8">授基础知识，切实加强基本技能训练。</tspan></text></g>
<g id="r4-2"><rect class="b" x="2037" y="2398.3" width="258" height="137.4" rx="6"/><text class="t" x="2044" y="2416"><tspan x="2044">2、课堂教学是教学工作的中心，只有切实有</tspan><tspan x="2044" dy="15.8">效地提高课堂教学的质量和效益，才能大面积</tspan><tspan x="2044" dy="15.8">的提高教学质量。课堂教学坚持以培养学生能</tspan><tspan x="2044" dy="15.8">力为重点，优化课堂教学，以提高课堂效率，</tspan><tspan x="2044" dy="15.8">改进教学模式和方法，遵循学生身心发展规律</tspan><tspan x="2044" dy="15.8">，以培养学生自主学习能力和积极参与意识，</tspan><tspan x="2044" dy="15.8">加强学习方法的指导，使学生在主动的探索中</tspan><tspan x="2044" dy="15.8">获得知识，提高自主学习能力。</tspan></text></g>
<g id="r4-3"><rect class="b" x="2037" y="2564" width="258" height="90" rx="6"/><text class="t" x="2044" y="2581.7"><tspan x="2044">3、课堂教学坚持整体性原则，教学过程中始</tspan><tspan x="2044" dy="15.8">终把知识与能力、过程与方法、情感态度与价</tspan><tspan x="2044" dy="15.8">值的全面整合，使学生全面发展，从实际出发</tspan><tspan x="2044" dy="15.8">，积极探索和实践。寻求有自己特色的教学模</tspan><tspan x="2044" dy="15.8">式。</tspan></text></g>
<g id="r4-4"><rect class="b" x="2037" y="2680.3" width="258" height="137.4" rx="6"/><text class="t" x="2044" y="2698"><tspan x="2044">4、教学语言规范，精神振奋，按时上下课，</tspan><tspan x="2044" dy="15.8">关心学生，注重学生的学习方法指导，使学生</tspan><tspan x="2044" dy="15.8">学会学习，乐于学习。使学生逐步掌握历史和</tspan><tspan x="2044" dy="15.8">认识历史的一些基本技能和方法，例如：识别</tspan><tspan x="2044" dy="15.8">和运用与教学有关的历史地图、图片、图表;</tspan><tspan x="2044" dy="15.8">搜集和整理与历史学习相关的材料;叙述重要</tspan><tspan x="2044" dy="15.8">的历史事实;解释重要的历史概念，分析和评</tspan><tspan x="2044" dy="15.8">论重要的历史问题等。</tspan></text></g>
<g id="r4-5"><rect class="b" x="2037" y="2845.1" width="258" height="105.8" rx="6"/><text class="t" x="2044" y="2862.8"><tspan x="2044">5、教学中考虑到学生的年龄特点和心里特征</tspan><tspan x="2044" dy="15.8">，从学生的认识水平出发，调动和激发学生的</tspan><tspan x="2044" dy="15.8">学习兴趣和热情，鼓励学生积极参与教学活动</tspan><tspan x="2044" dy="15.8">，同时，对教学内容和教学活动从有利于学生</tspan><tspan x="2044" dy="15.8">学习的角度出发，启发学生对历史的理解，避</tspan><tspan x="2044" dy="15.8">免死记硬背，减轻学生的负担。</tspan></text></g>
<g id="r4-6"><rect class="b" x="2037" y="2978.1" width="258" height="105.8" rx="6"/><text class="t" x="2044" y="2995.8"><tspan x="2044">6、有效的作业，是学生复习巩固所学知识，</tspan><tspan x="2044" dy="15.8">教师发现教学问题的有效途径之一。在不增加</tspan><tspan x="2044" dy="15.8">学生学习负担的前提下，布置有效的学习任务</tspan><tspan x="2044" dy="15.8">，针对不同层次的学生设计不同的学习任务，</tspan><tspan x="2044" dy="15.8">争取在课堂中完成习题。对于考试和作业做到</tspan><tspan x="2044" dy="15.8">及时批改和反馈。查漏补缺。</tspan></text></g>
<g id="l2-5-7"><rect class="b" x="2037" y="3174.5" width="190" height="27" rx="6"/><text class="lt" x="2132" y="3192.3">7、进一步深入课题的研究和运用</text></g>
<g id="r4-7a"><rect class="b" x="2250" y="3111.7" width="258" height="42.6" rx="6"/><text class="t" x="2257" y="3129.4"><tspan x="2257">本学期继续用上学期的教研课题：培养学生的</tspan><tspan x="2257" dy="15.8">历史自主探究能力。</tspan></text></g>
<g id="r4-7b"><rect class="b" x="2250" y="3181.2" width="258" height="121.6" rx="6"/><text class="t" x="2257" y="3198.9"><tspan x="2257">在工作实践中要紧紧围绕这一课题，潜心研究</tspan><tspan x="2257" dy="15.8">，大胆实践，不断的总结经验教训。在教学中</tspan><tspan x="2257" dy="15.8">以问题为载体，创设一种类似科学研究的情境</tspan><tspan x="2257" dy="15.8">和途径，让学生通过自己收集、分析和处理信</tspan><tspan x="2257" dy="15.8">息来实践感受和体验知识的生产过程，进而培</tspan><tspan x="2257" dy="15.8">养学生的分析问题和解决问题的能力和创造能</tspan><tspan x="2257" dy="15.8">力，充分发挥学生的健康个性的发展。</tspan></text></g>
<g id="l2-6"><rect class="b" x="1865" y="3449.5" width="74" height="27" rx="6"/><text class="lt" x="1902" y="3467.3">五、辅导：</text></g>
<g id="r5a"><rect class="b" x="1963" y="3331" width="257" height="90" rx="6"/><text class="t" x="1970" y="3348.7"><tspan x="1970">辅导以学习上的优生和暂时的后进生为主，即</tspan><tspan x="1970" dy="15.8">要重视培养学生的创新精神和各种能力，重视</tspan><tspan x="1970" dy="15.8">知识的查漏补缺和学法上的指导，又要重视对</tspan><tspan x="1970" dy="15.8">学生进行学习目的的教育及学习兴趣的激发，</tspan><tspan x="1970" dy="15.8">学习意志、习惯和方法等非智力因素的培养。</tspan></text></g>
<g id="r5b"><rect class="b" x="1963" y="3448.7" width="257" height="200.6" rx="6"/><text class="t" x="1970" y="3466.4"><tspan x="1970">在辅导中贯彻因材施教的原则，对那些学有余</tspan><tspan x="1970" dy="15.8">力的优秀学生，帮助他们发展特点，创造性地</tspan><tspan x="1970" dy="15.8">进行学习，培养其创新能力。在课堂上让优生</tspan><tspan x="1970" dy="15.8">发挥骨干作用，带动班级的形成积极向上的学</tspan><tspan x="1970" dy="15.8">习风气。对学习有困难的学生，利用学校开展</tspan><tspan x="1970" dy="15.8">的学困生辅导工作，在多方面关心爱护他们，</tspan><tspan x="1970" dy="15.8">帮助他们掌握历史基础知识的学习，使他们增</tspan><tspan x="1970" dy="15.8">强学习的信心，全面提高教学质量。上学期颜</tspan><tspan x="1970" dy="15.8">静和严廷花同学做为我的辅导对象，在期末考</tspan><tspan x="1970" dy="15.8">试中都取得了优异的成绩，本学期，我选定邢</tspan><tspan x="1970" dy="15.8">海泉和王家威两名同学，争取实现两位同学良</tspan><tspan x="1970" dy="15.8">好学习习惯的养成和成绩的提高。</tspan></text></g>
<g id="l2-7"><rect class="b" x="1865" y="3817.5" width="87" height="27" rx="6"/><text class="lt" x="1908.5" y="3835.3">六、自我提高</text></g>
<g id="r6-1"><rect class="b" x="1975" y="3675.8" width="257" height="58.4" rx="6"/><text class="t" x="1982" y="3693.5"><tspan x="1982">1、认真完成学校的教育教学任务，积极参加</tspan><tspan x="1982" dy="15.8">文科组组织的学习活动，及时送检教案。对于</tspan><tspan x="1982" dy="15.8">教学中出现的问题及时归纳和总结。</tspan></text></g>
<g id="r6-2"><rect class="b" x="1975" y="3761.8" width="257" height="58.4" rx="6"/><text class="t" x="1982" y="3779.5"><tspan x="1982">2、继续参加全县第三批骨干教师的培训活动</tspan><tspan x="1982" dy="15.8">，认真完成作业，为全县历史学科点名听课做</tspan><tspan x="1982" dy="15.8">好充分准备。</tspan></text></g>
<g id="r6-3"><rect class="b" x="1975" y="3847.8" width="257" height="58.4" rx="6"/><text class="t" x="1982" y="3865.5"><tspan x="1982">3、继续开展读书活动，并及时做好读书笔记</tspan><tspan x="1982" dy="15.8">，充实到自己的博客中。学期末上交一份读书</tspan><tspan x="1982" dy="15.8">心得。</tspan></text></g>
<g id="r6-4"><rect class="b" x="1975" y="3933.7" width="257" height="42.6" rx="6"/><text class="t" x="1982" y="3951.4"><tspan x="1982">4、虚心向其他教师学习，积极参加听课活动</tspan><tspan x="1982" dy="15.8">。(听课节数不少于20节)。</tspan></text></g>

<!-- branch 4 -->
<g id="l4-1"><rect class="b" x="1745" y="4035.5" width="85" height="27" rx="6"/><text class="lt" x="1787.5" y="4053.3">一、指导思想</text></g>
<g id="s1"><rect class="b" x="1854" y="4004" width="257" height="90" rx="6"/><text class="t" x="1861" y="4021.7"><tspan x="1861">历史课的教学着眼于培养学生的分析能力，对</tspan><tspan x="1861" dy="15.8">世界有更深刻的了解，本学期主要学习世界历</tspan><tspan x="1861" dy="15.8">史，教师应根据学生的'年龄特征，结合学生</tspan><tspan x="1861" dy="15.8">实际情况，晓之以理、动之以情，才能达到事</tspan><tspan x="1861" dy="15.8">半功倍的效果。</tspan></text></g>
<g id="l4-2"><rect class="b" x="1745" y="4239.5" width="85" height="27" rx="6"/><text class="lt" x="1787.5" y="4257.3">二、基本情况</text></g>
<g id="s2a"><rect class="b" x="1854" y="4121.3" width="257" height="137.4" rx="6"/><text class="t" x="1861" y="4139"><tspan x="1861">今期本人任教九年级的3、4班的历史教学，</tspan><tspan x="1861" dy="15.8">学生课堂纪律还比较不错，但两极分化严重，</tspan><tspan x="1861" dy="15.8">缺乏分析理解能力，衷于死记硬背，不能活学</tspan><tspan x="1861" dy="15.8">活用，对于文综的开卷考试会很吃亏，但只要</tspan><tspan x="1861" dy="15.8">老师有方法、有耐心，将枯燥乏味的历史知识</tspan><tspan x="1861" dy="15.8">加以生动化、形象化，同时辅以丰富的教学手</tspan><tspan x="1861" dy="15.8">段，牢牢抓住学生的好奇心，激发学生的求知</tspan><tspan x="1861" dy="15.8">欲，学生就定能将历史知识学好。</tspan></text></g>
<g id="s2b"><rect class="b" x="1854" y="4285.8" width="257" height="58.4" rx="6"/><text class="t" x="1861" y="4303.5"><tspan x="1861">因为是毕业班，为了使中考总复习能提前进行</tspan><tspan x="1861" dy="15.8">，赢取更多更宝贵的复习时间，教学进度会大</tspan><tspan x="1861" dy="15.8">大加快，计划今期将世界历下册全授完。</tspan></text></g>
<g id="l4-3"><rect class="b" x="1745" y="4386.5" width="85" height="27" rx="6"/><text class="lt" x="1787.5" y="4404.3">三、教学目标</text></g>
<g id="s3"><rect class="b" x="1854" y="4371.8" width="257" height="58.4" rx="6"/><text class="t" x="1861" y="4389.5"><tspan x="1861">通过本学期历史学科的学习，培养学生了解世</tspan><tspan x="1861" dy="15.8">界的能力，拓展学生的知识面，比较中国与其</tspan><tspan x="1861" dy="15.8">它各国的差异，以此来增强爱国主义情感。</tspan></text></g>
<g id="l4-4"><rect class="b" x="1745" y="4489.5" width="85" height="27" rx="6"/><text class="lt" x="1787.5" y="4507.3">四、教材分析</text></g>
<g id="s4"><rect class="b" x="1854" y="4457" width="257" height="90" rx="6"/><text class="t" x="1861" y="4474.7"><tspan x="1861">每册教材共分六个单元，上册21课，下册19</tspan><tspan x="1861" dy="15.8">课，结合历年中考要求，重点为近代史以后的</tspan><tspan x="1861" dy="15.8">内容。每课的内容多，知识点多，且容易混淆</tspan><tspan x="1861" dy="15.8">，要记忆的图形也多，教师要教会学生理解，</tspan><tspan x="1861" dy="15.8">方能取得好的教学效果。</tspan></text></g>
<g id="l4-5"><rect class="b" x="1745" y="4757.5" width="85" height="27" rx="6"/><text class="lt" x="1787.5" y="4775.3">五、具体措施</text></g>
<g id="s5-1"><rect class="b" x="1854" y="4574.7" width="257" height="42.6" rx="6"/><text class="t" x="1861" y="4592.4"><tspan x="1861">1、讲授切合实际、因材施教。以"开放式"、"</tspan><tspan x="1861" dy="15.8">启发式"、"探究式"、"讨论式"为主。</tspan></text></g>
<g id="s5-2"><rect class="b" x="1854" y="4643.5" width="129" height="27" rx="6"/><text class="lt" x="1918.5" y="4661.3">2、力求知识趣味化。</text></g>
<g id="s5-3"><rect class="b" x="1854" y="4698.7" width="257" height="42.6" rx="6"/><text class="t" x="1861" y="4716.4"><tspan x="1861">3、狠抓课堂教学，充分调动学生课堂学习积</tspan><tspan x="1861" dy="15.8">极性，激发学生积极参与。</tspan></text></g>
<g id="s5-4"><rect class="b" x="1854" y="4768.5" width="141" height="27" rx="6"/><text class="lt" x="1924.5" y="4786.3">4、练习要求规范认真。</text></g>
<g id="s5-5"><rect class="b" x="1854" y="4822.5" width="153" height="27" rx="6"/><text class="lt" x="1930.5" y="4840.3">5、作业批阅及时、认真。</text></g>
<g id="s5-6"><rect class="b" x="1854" y="4877.5" width="166" height="27" rx="6"/><text class="lt" x="1937" y="4895.3">6、培养学生各方面的能力。</text></g>
<g id="s5-7"><rect class="b" x="1854" y="4931.5" width="240" height="27" rx="6"/><text class="lt" x="1974" y="4949.3">7、及时检测，及时了解学生的学习情况。</text></g>

<!-- related -->
<g id="k1"><rect class="b" x="1829" y="4985.5" width="180" height="27" rx="6"/><text class="t" x="1838" y="5003.3">★ 九年级世界历史教学计划5篇</text></g>
<g id="k2"><rect class="b" x="1829" y="5040.5" width="185" height="27" rx="6"/><text class="t" x="1838" y="5058.3">★ 关于九年级历史学科教学计划</text></g>
<g id="k3"><rect class="b" x="1829" y="5095.5" width="202" height="27" rx="6"/><text class="t" x="1838" y="5113.3">★ 九年级人教版历史教学计划2021</text></g>
<g id="k4"><rect class="b" x="1829" y="5149.5" width="217" height="27" rx="6"/><text class="t" x="1838" y="5167.3">★ 九年级人教版历史学科教学计划5篇</text></g>
<g id="k5"><rect class="b" x="1829" y="5203.5" width="173" height="27" rx="6"/><text class="t" x="1838" y="5221.3">★ 关于初三世界历史教学计划</text></g>
<g id="k6"><rect class="b" x="1829" y="5257.5" width="204" height="27" rx="6"/><text class="t" x="1838" y="5275.3">★ 新编九年级上册历史教学计划5篇</text></g>
<g id="k7"><rect class="b" x="1829" y="5311.5" width="225" height="27" rx="6"/><text class="t" x="1838" y="5329.3">★ 关于九年级人教版历史教学计划2021</text></g>
<g id="k8"><rect class="b" x="1829" y="5366.5" width="176" height="27" rx="6"/><text class="t" x="1838" y="5384.3">★ 2021初中历史学科教学计划</text></g>
<g id="k9"><rect class="b" x="1829" y="5420.5" width="204" height="27" rx="6"/><text class="t" x="1838" y="5438.3">★ 新学期初中历史学科教学计划5篇</text></g>
<g id="k10"><rect class="b" x="1829" y="5474.5" width="229" height="27" rx="6"/><text class="t" x="1838" y="5492.3">★ 关于初二历史课程教学计划怎样写5篇</text></g>
</g>
</svg>
